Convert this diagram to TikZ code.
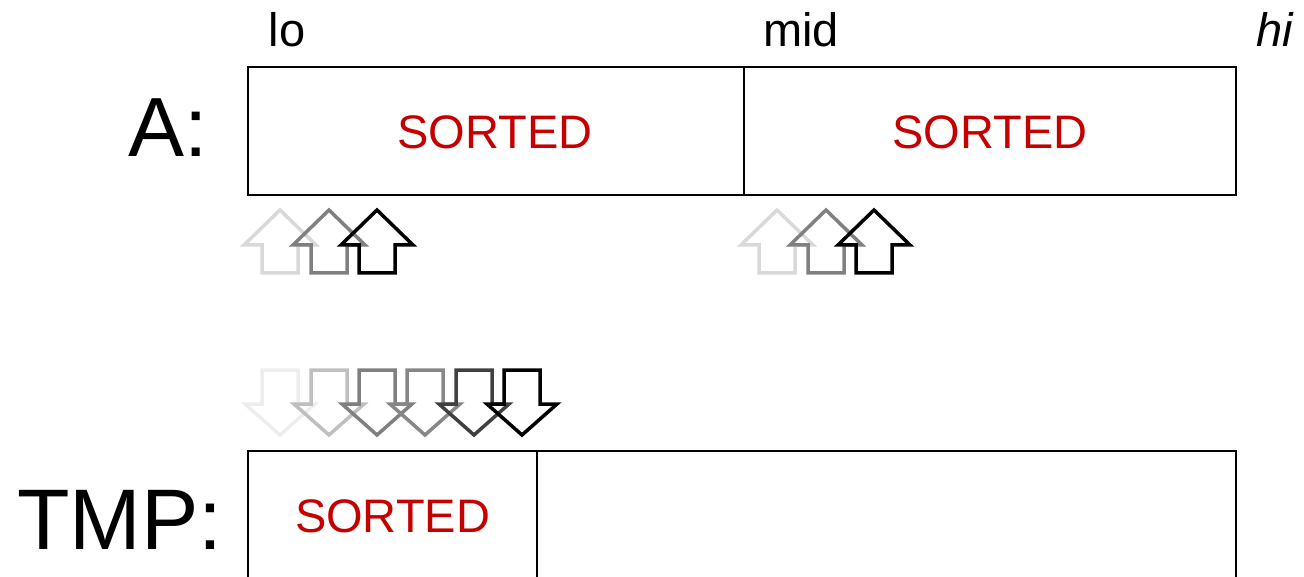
\documentclass[tikz,border=0pt]{standalone}
\usepackage{fontspec}
\setmainfont{Liberation Sans}
\definecolor{sortred}{RGB}{196,0,0}
\begin{document}
\begin{tikzpicture}[x=1pt,y=-1pt,
  box/.style={draw=black,line width=2pt,inner sep=0pt,outer sep=0pt},
  lbl/.style={anchor=base,inner sep=0pt,font=\fontsize{47}{56}\selectfont},
  biglbl/.style={anchor=base,inner sep=0pt},
  sorted/.style={anchor=base,inner sep=0pt,text=sortred,font=\fontsize{47}{56}\selectfont},
  arr/.style={line width=3.5pt,line join=miter}]
\useasboundingbox (0,0) rectangle (1304,577);
\clip (0,0) rectangle (1304,577);
% boxes
\node[box,minimum width=496pt,minimum height=128pt] (A1) at (496,131) {};
\node[box,minimum width=492pt,minimum height=128pt] (A2) at (990,131) {};
\node[box,minimum width=289pt,minimum height=200pt] (T1) at (392.5,551) {};
\node[box,minimum width=699pt,minimum height=200pt] (T2) at (886.5,551) {};
% labels
\node[lbl] (lo) at (287,47) {lo};
\node[lbl] (mid) at (801,47) {mid};
\node[lbl] (hi) at (1275,47) {\itshape hi};
\node[biglbl,font=\fontsize{84}{100}\selectfont] (Alab) at (168,157) {A:};
\node[biglbl,font=\fontsize{86}{103}\selectfont] (Tlab) at (120,549) {TMP:};
\node[sorted] (s1) at (495,149) {SORTED};
\node[sorted] (s2) at (990,149) {SORTED};
\node[sorted] (s3) at (392.5,532) {SORTED};
% up arrows
\foreach \cx/\g in {280/15,329/50,377/100,777/15,826/50,874/100}{
  \draw[arr,draw=black!\g] (\cx,210) -- ++(36,35) -- ++(-18,0) -- ++(0,28) -- ++(-36,0) -- ++(0,-28) -- ++(-18,0) -- cycle;
}
% down arrows
\foreach \cx/\g in {280/7,329/25,377/50,425/47,474/75,522/100}{
  \draw[arr,draw=black!\g] (\cx-18,370) -- ++(36,0) -- ++(0,34) -- ++(17,0) -- ++(-35,31) -- ++(-35,-31) -- ++(17,0) -- cycle;
}
\end{tikzpicture}
\end{document}
